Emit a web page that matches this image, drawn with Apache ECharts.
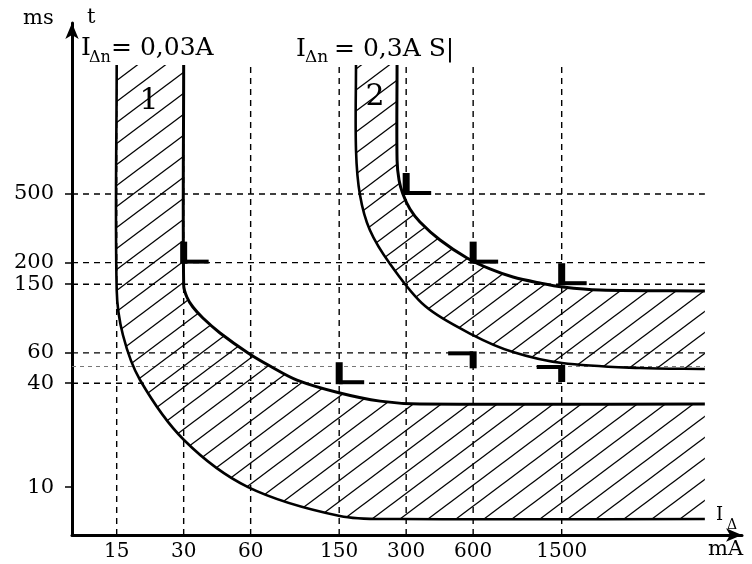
<!DOCTYPE html>
<html><head><meta charset="utf-8">
<script src="https://cdn.jsdelivr.net/npm/echarts@6/dist/echarts.min.js"></script>
<style>html,body{margin:0;padding:0;background:#fff}#c{width:752px;height:564px}</style>
</head><body><div id="c"></div>
<script>
// ---- data (mA on x, ms on y) ----
const xTicks = [15, 30, 60, 150, 300, 600, 1500];
const yTicks = [10, 40, 60, 150, 200, 500];
const vLines = [15, 30, 60, 150, 300, 600, 1500];
const vLineTop = 2750;
const hLines = [500, 200, 150, 60, 40];
const hLinesFaint = [50];
const lineEnd = 6600;

// band 1: I_Δn = 0,03A
const curve1Lower = [[15,2800],[15,139],[16,76.1],[19.1,41.75],[30.1,18.75],[58.4,10],[151,6.8],[281,6.53],[6600,6.53]];
const curve1Upper = [[30,2800],[30,148],[31,126.5],[33,110.6],[36.6,95.5],[43.7,78.2],[58.4,59.9],[73.3,50.3],[96.9,41.7],[151,35.1],[229,31.5],[346,30.3],[6600,30.3]];
// band 2: I_Δn = 0,3A S
const curve2Lower = [[178.5,2800],[178.5,900],[186,493],[206,309],[254,196.5],[365,112],[599,76.1],[906,60.7],[1504,52.4],[3373,49],[6600,48.4]];
const curve2Upper = [[273,2800],[273,787],[278.6,603],[290,500],[312,409],[346,344],[426,270.5],[563,212.8],[714,183.8],[906,165.1],[1197,152.4],[1519,144.5],[2227,138.8],[6600,137]];

// test-point markers
const markerX = [30, 300, 600, 1500, 150, 600, 1500];
const markerY = [200, 500, 200, 150, 40, 60, 50];
const markerKind = ['L', 'L', 'L', 'L', 'L', '7', '7'];

const X_MIN = 9.446, X_MAX = 9693, Y_MIN = 5.275, Y_MAX = 4900;
const FONT = '"DejaVu Serif", "Liberation Serif", serif';

// ---- hatch pattern ----
function makeHatch() {
  const c = document.createElement('canvas');
  c.width = 28; c.height = 21;
  const g = c.getContext('2d');
  g.strokeStyle = '#000'; g.lineWidth = 1.3;
  for (let k = -1; k <= 1; k++) {
    g.beginPath();
    g.moveTo(-8, 21 + 21 * k + 6);
    g.lineTo(36, 21 + 21 * k - 27);
    g.stroke();
  }
  return c;
}
const hatch = { image: makeHatch(), repeat: 'repeat' };

// smooth path through pixel points (tangent-scaled cubic)
function smoothSeg(pts, first) {
  const n = pts.length;
  let d = (first ? 'M' : 'L') + pts[0][0] + ',' + pts[0][1];
  const tan = pts.map((p, i) => {
    const a = pts[Math.max(0, i - 1)], b = pts[Math.min(n - 1, i + 1)];
    const dx = b[0] - a[0], dy = b[1] - a[1];
    const l = Math.hypot(dx, dy) || 1;
    return [dx / l, dy / l];
  });
  for (let i = 0; i < n - 1; i++) {
    const p = pts[i], q = pts[i + 1];
    const L = Math.hypot(q[0] - p[0], q[1] - p[1]) / 3;
    d += ' C' + (p[0] + tan[i][0] * L) + ',' + (p[1] + tan[i][1] * L) + ' ' +
      (q[0] - tan[i + 1][0] * L) + ',' + (q[1] - tan[i + 1][1] * L) + ' ' + q[0] + ',' + q[1];
  }
  return d;
}

const bands = [[curve1Lower, curve1Upper], [curve2Lower, curve2Upper]];

const chart = echarts.init(document.getElementById('c'), null, { renderer: 'canvas' });

const dashStyle = { stroke: '#000', lineWidth: 1.4, lineDash: [6, 5], fill: null };

chart.setOption({
  animation: false,
  backgroundColor: '#fff',
  grid: { left: 72, right: 10, top: 23, bottom: 29 },
  xAxis: {
    type: 'log', logBase: 10, min: X_MIN, max: X_MAX,
    axisLine: { show: true, onZero: false, lineStyle: { color: '#000', width: 3 }, symbol: ['none', 'arrow'], symbolSize: [10, 16] },
    axisTick: { show: false },
    minorTick: { show: false },
    splitLine: { show: false },
    axisLabel: { customValues: xTicks, formatter: v => String(v), color: '#000', fontFamily: FONT, fontSize: 20, margin: 7 }
  },
  yAxis: {
    type: 'log', logBase: 10, min: Y_MIN, max: Y_MAX,
    axisLine: { show: true, onZero: false, lineStyle: { color: '#000', width: 3 }, symbol: ['none', 'arrow'], symbolSize: [10, 16] },
    axisTick: { show: true, customValues: yTicks, length: 7, lineStyle: { color: '#000', width: 1.5 } },
    minorTick: { show: false },
    splitLine: { show: false },
    axisLabel: { customValues: yTicks, formatter: v => String(v), color: '#000', fontFamily: FONT, fontSize: 21, margin: 18 }
  },
  series: [
    { // vertical dashed lines
      type: 'custom', z: 1, silent: true,
      data: vLines.map(v => [v, Y_MIN]),
      encode: { x: 0, y: 1 },
      renderItem: (params, api) => {
        const a = api.coord([api.value(0), Y_MIN]);
        const b = api.coord([api.value(0), vLineTop]);
        return { type: 'line', shape: { x1: a[0], y1: a[1], x2: b[0], y2: b[1] }, style: dashStyle };
      }
    },
    { // horizontal dashed lines
      type: 'custom', z: 1, silent: true,
      data: hLines.map(v => [X_MIN, v]),
      encode: { x: 0, y: 1 },
      renderItem: (params, api) => {
        const a = api.coord([X_MIN, api.value(1)]);
        const b = api.coord([lineEnd, api.value(1)]);
        return { type: 'line', shape: { x1: a[0], y1: a[1], x2: b[0], y2: b[1] }, style: dashStyle };
      }
    },
    { // faint 50 ms line
      type: 'custom', z: 1, silent: true,
      data: hLinesFaint.map(v => [X_MIN, v]),
      encode: { x: 0, y: 1 },
      renderItem: (params, api) => {
        const a = api.coord([X_MIN, api.value(1)]);
        const b = api.coord([lineEnd, api.value(1)]);
        return { type: 'line', shape: { x1: a[0], y1: a[1], x2: b[0], y2: b[1] }, style: { stroke: '#777', lineWidth: 1, lineDash: [4, 4], fill: null } };
      }
    },
    { // hatched bands and their boundary curves
      type: 'custom', z: 2, silent: true,
      data: bands.map(b => b[0][b[0].length - 1]),
      encode: { x: 0, y: 1 },
      renderItem: (params, api) => {
        const [lo, up] = bands[params.dataIndex];
        const loPx = lo.map(p => api.coord(p));
        const upPx = up.map(p => api.coord(p));
        const fillPath = smoothSeg(loPx, true) + ' ' + smoothSeg(upPx.slice().reverse(), false) + ' Z';
        return {
          type: 'group',
          children: [
            { type: 'path', shape: { pathData: fillPath }, style: { fill: hatch, stroke: null } },
            { type: 'path', shape: { pathData: smoothSeg(loPx, true) }, style: { fill: null, stroke: '#000', lineWidth: 2.6 } },
            { type: 'path', shape: { pathData: smoothSeg(upPx, true) }, style: { fill: null, stroke: '#000', lineWidth: 3 } }
          ]
        };
      }
    },
    { // test-point markers
      type: 'custom', z: 3, silent: true,
      data: markerX.map((x, i) => [x, markerY[i]]),
      encode: { x: 0, y: 1 },
      renderItem: (params, api) => {
        const c = api.coord([api.value(0), api.value(1)]);
        const kind = markerKind[params.dataIndex];
        const st = { fill: '#000' };
        if (kind === 'L') {
          return { type: 'group', children: [
            { type: 'rect', shape: { x: c[0] - 3.5, y: c[1] - 21, width: 7, height: 22 }, style: st },
            { type: 'rect', shape: { x: c[0], y: c[1] - 3, width: 25, height: 4 }, style: st }
          ]};
        }
        return { type: 'group', children: [
          { type: 'rect', shape: { x: c[0] - 25, y: c[1] - 1.5, width: 25, height: 4 }, style: st },
          { type: 'rect', shape: { x: c[0] - 3.5, y: c[1] - 1.5, width: 7, height: 17 }, style: st }
        ]};
      }
    }
  ],
  graphic: [
    { type: 'text', x: 23, y: 19, style: { text: 'ms', font: '21px ' + FONT, fill: '#000', verticalAlign: 'middle', textVerticalAlign: 'middle' } },
    { type: 'text', x: 87, y: 18, style: { text: 't', font: '21px ' + FONT, fill: '#000', verticalAlign: 'middle', textVerticalAlign: 'middle' } },
    { type: 'text', x: 81, y: 48, style: { text: 'I', font: '25px ' + FONT, fill: '#000', verticalAlign: 'middle', textVerticalAlign: 'middle' } },
    { type: 'text', x: 89, y: 58, style: { text: 'Δn', font: '16px ' + FONT, fill: '#000', verticalAlign: 'middle', textVerticalAlign: 'middle' } },
    { type: 'text', x: 111, y: 48, style: { text: '= 0,03A', font: '25px ' + FONT, fill: '#000', verticalAlign: 'middle', textVerticalAlign: 'middle' } },
    { type: 'text', x: 296, y: 49, style: { text: 'I', font: '25px ' + FONT, fill: '#000', verticalAlign: 'middle', textVerticalAlign: 'middle' } },
    { type: 'text', x: 305, y: 58, style: { text: 'Δn', font: '17px ' + FONT, fill: '#000', verticalAlign: 'middle', textVerticalAlign: 'middle' } },
    { type: 'text', x: 334, y: 49, style: { text: '= 0,3A S|', font: '25px ' + FONT, fill: '#000', verticalAlign: 'middle', textVerticalAlign: 'middle' } },
    { type: 'text', x: 149, y: 101, style: { text: '1', font: '30px ' + FONT, fill: '#000', align: 'center', textAlign: 'center', verticalAlign: 'middle', textVerticalAlign: 'middle' } },
    { type: 'text', x: 375, y: 97, style: { text: '2', font: '30px ' + FONT, fill: '#000', align: 'center', textAlign: 'center', verticalAlign: 'middle', textVerticalAlign: 'middle' } },
    { type: 'text', x: 716, y: 515, style: { text: 'I', font: '18px ' + FONT, fill: '#000', verticalAlign: 'middle', textVerticalAlign: 'middle' } },
    { type: 'text', x: 727, y: 525, style: { text: 'Δ', font: '14px ' + FONT, fill: '#000', verticalAlign: 'middle', textVerticalAlign: 'middle' } },
    { type: 'text', x: 708, y: 550, style: { text: 'mA', font: '21px ' + FONT, fill: '#000', verticalAlign: 'middle', textVerticalAlign: 'middle' } }
  ]
});
</script>
</body></html>
